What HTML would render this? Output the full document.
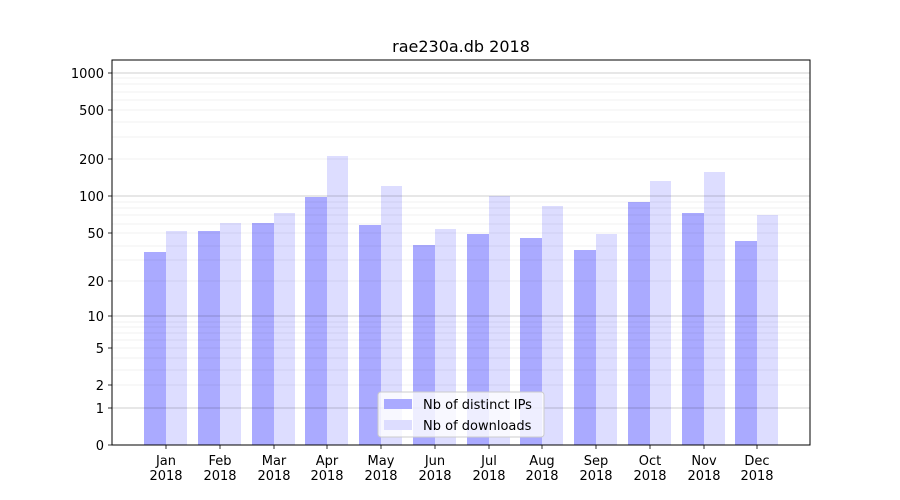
<!DOCTYPE html>
<html><head><style>body{margin:0;background:#fff}svg{display:block;font-family:"DejaVu Sans","Liberation Sans",sans-serif}</style></head>
<body>
<svg width="900" height="500" viewBox="0 0 900 500" xmlns="http://www.w3.org/2000/svg">
<rect width="900" height="500" fill="#fff"/>
<g fill="#aaaaff">
<rect x="144" y="252" width="22" height="193"/><rect x="198" y="231" width="22" height="214"/><rect x="252" y="223" width="22" height="222"/><rect x="305" y="197" width="22" height="248"/><rect x="359" y="225" width="22" height="220"/><rect x="413" y="245" width="22" height="200"/><rect x="467" y="234" width="22" height="211"/><rect x="520" y="238" width="22" height="207"/><rect x="574" y="250" width="22" height="195"/><rect x="628" y="202" width="22" height="243"/><rect x="682" y="213" width="22" height="232"/><rect x="735" y="241" width="22" height="204"/>
</g>
<g fill="#ddddff">
<rect x="166" y="231" width="21" height="214"/><rect x="220" y="223" width="21" height="222"/><rect x="274" y="213" width="21" height="232"/><rect x="327" y="156" width="21" height="289"/><rect x="381" y="186" width="21" height="259"/><rect x="435" y="229" width="21" height="216"/><rect x="489" y="196" width="21" height="249"/><rect x="542" y="206" width="21" height="239"/><rect x="596" y="234" width="21" height="211"/><rect x="650" y="181" width="21" height="264"/><rect x="704" y="172" width="21" height="273"/><rect x="757" y="215" width="21" height="230"/>
</g>
<g stroke="#000" stroke-opacity="0.08" stroke-width="0.8">
<line x1="112" x2="810" y1="385" y2="385"/><line x1="112" x2="810" y1="370" y2="370"/><line x1="112" x2="810" y1="358" y2="358"/><line x1="112" x2="810" y1="348" y2="348"/>
<line x1="112" x2="810" y1="340" y2="340"/><line x1="112" x2="810" y1="333" y2="333"/><line x1="112" x2="810" y1="327" y2="327"/><line x1="112" x2="810" y1="322" y2="322"/>
<line x1="112" x2="810" y1="281" y2="281"/><line x1="112" x2="810" y1="260" y2="260"/><line x1="112" x2="810" y1="246" y2="246"/><line x1="112" x2="810" y1="233" y2="233"/><line x1="112" x2="810" y1="224" y2="224"/><line x1="112" x2="810" y1="215" y2="215"/><line x1="112" x2="810" y1="208" y2="208"/><line x1="112" x2="810" y1="202" y2="202"/>
<line x1="112" x2="810" y1="159" y2="159"/><line x1="112" x2="810" y1="137" y2="137"/><line x1="112" x2="810" y1="122" y2="122"/><line x1="112" x2="810" y1="110" y2="110"/><line x1="112" x2="810" y1="100" y2="100"/><line x1="112" x2="810" y1="92" y2="92"/><line x1="112" x2="810" y1="84" y2="84"/><line x1="112" x2="810" y1="78" y2="78"/>
</g>
<g stroke="#000" stroke-opacity="0.25" stroke-width="0.8">
<line x1="112" x2="810" y1="73" y2="73"/><line x1="112" x2="810" y1="196" y2="196"/><line x1="112" x2="810" y1="316" y2="316"/><line x1="112" x2="810" y1="408" y2="408"/>
</g>
<rect x="112" y="60" width="698" height="385" fill="none" stroke="#000" stroke-width="1"/>
<g stroke="#000" stroke-width="0.8">
<line x1="108" x2="112" y1="73" y2="73"/><line x1="108" x2="112" y1="110" y2="110"/><line x1="108" x2="112" y1="159" y2="159"/><line x1="108" x2="112" y1="196" y2="196"/><line x1="108" x2="112" y1="233" y2="233"/><line x1="108" x2="112" y1="281" y2="281"/><line x1="108" x2="112" y1="316" y2="316"/><line x1="108" x2="112" y1="348" y2="348"/><line x1="108" x2="112" y1="385" y2="385"/><line x1="108" x2="112" y1="408" y2="408"/><line x1="108" x2="112" y1="445" y2="445"/>
<line x1="166" x2="166" y1="445" y2="449"/><line x1="220" x2="220" y1="445" y2="449"/><line x1="274" x2="274" y1="445" y2="449"/><line x1="327" x2="327" y1="445" y2="449"/><line x1="381" x2="381" y1="445" y2="449"/><line x1="435" x2="435" y1="445" y2="449"/><line x1="489" x2="489" y1="445" y2="449"/><line x1="542" x2="542" y1="445" y2="449"/><line x1="596" x2="596" y1="445" y2="449"/><line x1="650" x2="650" y1="445" y2="449"/><line x1="704" x2="704" y1="445" y2="449"/><line x1="757" x2="757" y1="445" y2="449"/>
</g>
<g font-size="13" fill="#000" text-anchor="end">
<text x="104" y="78">1000</text><text x="104" y="115">500</text><text x="104" y="164">200</text><text x="104" y="201">100</text><text x="104" y="238">50</text><text x="104" y="286">20</text><text x="104" y="321">10</text><text x="104" y="353">5</text><text x="104" y="390">2</text><text x="104" y="413">1</text><text x="104" y="450">0</text>
</g>
<g font-size="13" fill="#000" text-anchor="middle">
<text x="166" y="465">Jan</text><text x="166" y="480">2018</text>
<text x="220" y="465">Feb</text><text x="220" y="480">2018</text>
<text x="274" y="465">Mar</text><text x="274" y="480">2018</text>
<text x="327" y="465">Apr</text><text x="327" y="480">2018</text>
<text x="381" y="465">May</text><text x="381" y="480">2018</text>
<text x="435" y="465">Jun</text><text x="435" y="480">2018</text>
<text x="489" y="465">Jul</text><text x="489" y="480">2018</text>
<text x="542" y="465">Aug</text><text x="542" y="480">2018</text>
<text x="596" y="465">Sep</text><text x="596" y="480">2018</text>
<text x="650" y="465">Oct</text><text x="650" y="480">2018</text>
<text x="704" y="465">Nov</text><text x="704" y="480">2018</text>
<text x="757" y="465">Dec</text><text x="757" y="480">2018</text>
<text x="461" y="52" font-size="16">rae230a.db 2018</text>
</g>
<rect x="378" y="392" width="166" height="45" rx="3" fill="#fff" fill-opacity="0.8" stroke="#ccc"/>
<rect x="384" y="399" width="28" height="10" fill="#aaaaff"/>
<rect x="384" y="420" width="28" height="10" fill="#ddddff"/>
<text x="423" y="409" font-size="13">Nb of distinct IPs</text>
<text x="423" y="430" font-size="13">Nb of downloads</text>
</svg>
</body></html>
